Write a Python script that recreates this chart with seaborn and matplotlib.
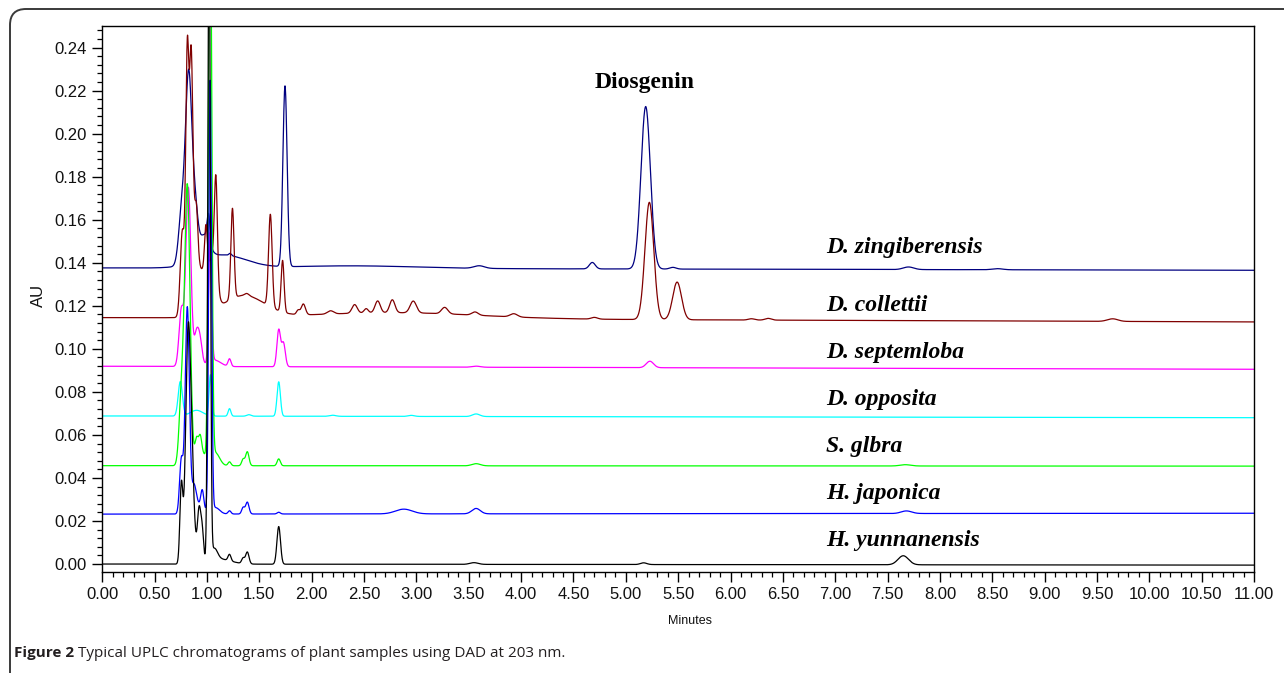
import numpy as np
import pandas as pd
import matplotlib
matplotlib.use("Agg")
import matplotlib.pyplot as plt
import seaborn as sns
from matplotlib.patches import FancyBboxPatch
from matplotlib.transforms import IdentityTransform
from matplotlib.ticker import MultipleLocator, FormatStrFormatter

# samples, drawn in this order (black last, on top)
samples = ["D. zingiberensis", "D. collettii", "D. septemloba", "D. opposita",
           "S. glbra", "H. japonica", "H. yunnanensis"]
colors = ["#000080", "#800000", "#ff00ff", "#00ffff", "#00ff00", "#0000ff", "#000000"]

# baseline at 0 min and at 11 min (AU)
base_start = [0.1376, 0.1145, 0.0919, 0.0688, 0.0457, 0.0232, 0.0000]
base_end = [0.1365, 0.1125, 0.0905, 0.0680, 0.0455, 0.0236, -0.0005]

# peak tables: (retention time min, height AU, width sigma min)
peaks_zingiberensis = [
    (0.76, 0.025, 0.03), (0.825, 0.086, 0.03), (0.885, 0.022, 0.027),
    (0.97, 0.011, 0.05), (1.015, 0.013, 0.014), (1.15, 0.006, 0.22),
    (1.22, 0.001, 0.012), (1.745, 0.084, 0.02), (2.4, 0.0012, 0.6),
    (3.6, 0.0012, 0.05), (4.68, 0.003, 0.028), (5.19, 0.0755, 0.045),
    (5.45, 0.0008, 0.03), (7.7, 0.0012, 0.05), (8.55, 0.0005, 0.05),
]
peaks_collettii = [
    (0.765, 0.04, 0.02), (0.812, 0.119, 0.015), (0.848, 0.096, 0.015),
    (0.88, 0.04, 0.03), (0.90, 0.012, 0.012), (0.97, 0.02, 0.05),
    (0.99, 0.02, 0.013), (1.06, 0.02, 0.035), (1.085, 0.045, 0.014),
    (1.243, 0.042, 0.015), (1.35, 0.010, 0.2), (1.38, 0.001, 0.02),
    (1.605, 0.043, 0.017), (1.722, 0.024, 0.014), (2.8, 0.0028, 0.8),
    (1.87, 0.002, 0.015), (1.92, 0.005, 0.02), (2.18, 0.0015, 0.03),
    (2.41, 0.004, 0.025), (2.52, 0.002, 0.02), (2.63, 0.0055, 0.025),
    (2.77, 0.006, 0.025), (2.97, 0.0055, 0.03), (3.27, 0.003, 0.03),
    (3.56, 0.0015, 0.03), (3.93, 0.0015, 0.035), (4.7, 0.0008, 0.03),
    (5.225, 0.0545, 0.042), (5.49, 0.0175, 0.042), (6.2, 0.0006, 0.03),
    (6.36, 0.0008, 0.03), (9.65, 0.0012, 0.05),
]
peaks_septemloba = [
    (0.755, 0.026, 0.022), (0.822, 0.083, 0.024), (0.90, 0.015, 0.022),
    (0.935, 0.01, 0.02), (1.03, 0.06, 0.014), (1.07, 0.003, 0.06),
    (1.215, 0.0035, 0.014), (1.685, 0.017, 0.017), (1.73, 0.011, 0.018),
    (3.57, 0.0005, 0.04), (5.23, 0.003, 0.035),
]
peaks_opposita = [
    (0.745, 0.016, 0.02), (0.9, 0.0027, 0.06), (1.033, 0.019, 0.013),
    (1.215, 0.0035, 0.013), (1.4, 0.0007, 0.02), (1.685, 0.016, 0.016),
    (2.2, 0.0005, 0.03), (2.95, 0.0005, 0.03), (3.57, 0.0012, 0.035),
]
peaks_glbra = [
    (0.755, 0.03, 0.022), (0.812, 0.13, 0.026), (0.90, 0.01, 0.016),
    (0.935, 0.008, 0.014), (0.95, 0.006, 0.04), (1.03, 0.28, 0.015),
    (1.08, 0.006, 0.04), (1.215, 0.0018, 0.014), (1.345, 0.003, 0.014),
    (1.385, 0.0065, 0.016), (1.685, 0.0032, 0.015), (3.57, 0.001, 0.04),
    (7.67, 0.0006, 0.05),
]
peaks_japonica = [
    (0.755, 0.025, 0.017), (0.812, 0.096, 0.02), (0.875, 0.012, 0.022),
    (0.93, 0.004, 0.04), (0.955, 0.008, 0.014), (1.03, 0.2, 0.013),
    (1.08, 0.003, 0.04), (1.215, 0.0015, 0.014), (1.345, 0.003, 0.014),
    (1.385, 0.0055, 0.016), (1.685, 0.0008, 0.015), (2.88, 0.0022, 0.08),
    (3.57, 0.0025, 0.04), (7.68, 0.0012, 0.05),
]
peaks_yunnanensis = [
    (0.755, 0.036, 0.014), (0.82, 0.106, 0.024), (0.86, 0.03, 0.022),
    (0.925, 0.025, 0.017), (0.955, 0.012, 0.013), (1.02, 0.30, 0.012),
    (1.07, 0.005, 0.03), (1.1, 0.0025, 0.12), (1.215, 0.003, 0.014),
    (1.345, 0.0025, 0.014), (1.385, 0.0055, 0.016), (1.685, 0.0175, 0.017),
    (3.55, 0.0008, 0.04), (5.17, 0.0008, 0.03), (7.65, 0.0042, 0.05),
]
peak_tables = [peaks_zingiberensis, peaks_collettii, peaks_septemloba,
               peaks_opposita, peaks_glbra, peaks_japonica, peaks_yunnanensis]

# label baselines (AU) and annotation
label_x = 6.91
label_y = [0.1444, 0.1175, 0.0957, 0.0738, 0.0520, 0.0302, 0.0084]
peak_name = "Diosgenin"
peak_name_pos = (5.176, 0.2211)
caption_bold = "Figure 2"
caption_rest = " Typical UPLC chromatograms of plant samples using DAD at 203 nm."

t = np.linspace(0, 11, 5501)
frames = []
for name, b0, b1, table in zip(samples, base_start, base_end, peak_tables):
    y = b0 + (b1 - b0) * t / 11.0
    for rt, h, s in table:
        y = y + h * np.exp(-(t - rt) ** 2 / (2 * s * s))
    frames.append(pd.DataFrame({"Minutes": t, "AU": y, "sample": name}))
df = pd.concat(frames, ignore_index=True)

sns.set_theme(style="ticks")
plt.rcParams["font.family"] = ["Liberation Sans", "DejaVu Sans"]

fig = plt.figure(figsize=(12.84, 6.73), dpi=100)
ax = fig.add_axes([102.3 / 1284, 1 - 572 / 673, (1254 - 102.3) / 1284, (572 - 26) / 673])

sns.lineplot(data=df, x="Minutes", y="AU", hue="sample", hue_order=samples,
             palette=dict(zip(samples, colors)), estimator=None, sort=False,
             legend=False, linewidth=0.9, ax=ax)

ax.set_xlim(0, 11)
ax.set_ylim(-0.0037, 0.25)
ax.xaxis.set_major_locator(MultipleLocator(0.5))
ax.xaxis.set_minor_locator(MultipleLocator(0.1))
ax.yaxis.set_major_locator(MultipleLocator(0.02))
ax.yaxis.set_minor_locator(MultipleLocator(0.004))
ax.xaxis.set_major_formatter(FormatStrFormatter("%.2f"))
ax.yaxis.set_major_formatter(FormatStrFormatter("%.2f"))
ax.tick_params(which="major", length=7, width=1, color="black", labelsize=12,
               labelcolor="#111111", pad=4)
ax.tick_params(which="minor", length=3.5, width=0.9, color="black")
for sp in ax.spines.values():
    sp.set_color("black")
    sp.set_linewidth(1.0)
ax.set_xlabel("")
ax.set_ylabel("")

fig.text(38 / 1284, 1 - 295 / 673, "AU", rotation=90, ha="center", va="center",
         fontsize=12, color="#111111")
fig.text(690 / 1284, 1 - 621 / 673, "Minutes", ha="center", va="center",
         fontsize=9, color="#111111")

for name, ly in zip(samples, label_y):
    ax.text(label_x, ly, name, family="Liberation Serif", style="italic",
            weight="bold", fontsize=17, ha="left", va="baseline", color="black")
ax.text(peak_name_pos[0], peak_name_pos[1], peak_name, family="Liberation Serif",
        weight="bold", fontsize=17, ha="center", va="baseline", color="black")

# caption below the chart
cap = fig.text(14 / 1284, 1 - 657 / 673, caption_bold, family="Open Sans",
               weight="bold", fontsize=11, color="#231f20", va="baseline")
fig.canvas.draw()
bb = cap.get_window_extent()
fig.text(bb.x1 / fig.bbox.width, 1 - 657 / 673, caption_rest, family="Open Sans",
         fontsize=11, color="#231f20", va="baseline")

# rounded frame around the figure
frame = FancyBboxPatch((10, -30), 1320, 673 - 9 + 30,
                       boxstyle="round,pad=0,rounding_size=16",
                       transform=IdentityTransform(), fill=False,
                       edgecolor="#3a3a3a", linewidth=1.4)
fig.add_artist(frame)

fig.savefig("out.png", dpi=100)
